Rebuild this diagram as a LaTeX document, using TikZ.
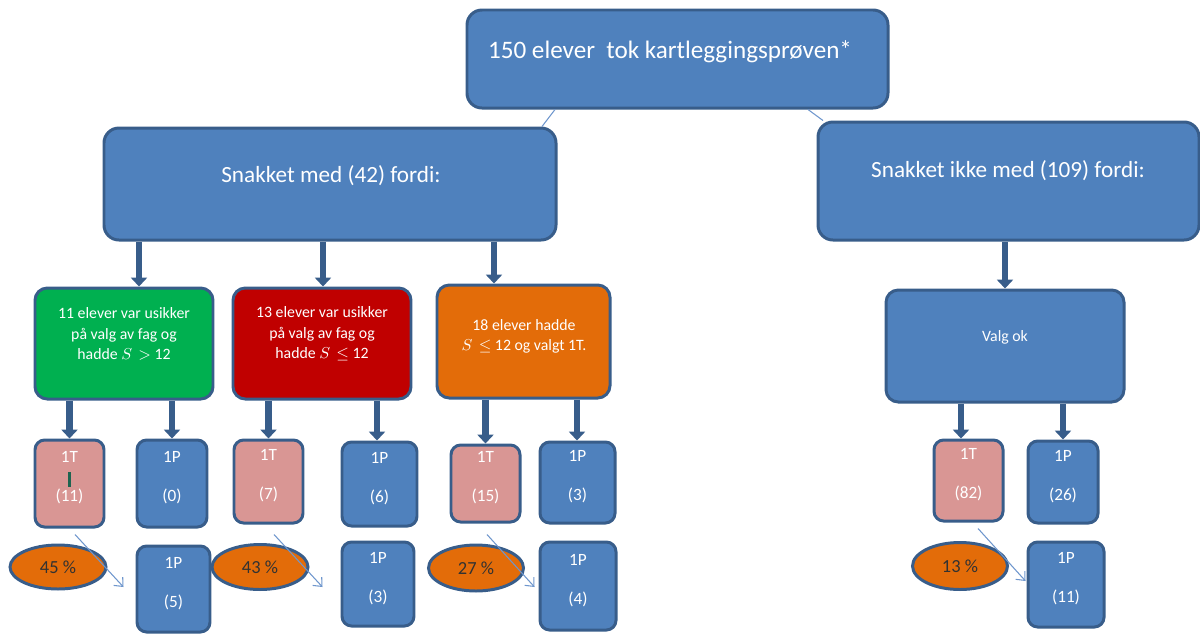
\documentclass[tikz,border=0pt]{standalone}
\usepackage{fontspec}
\setmainfont{Carlito}
\usetikzlibrary{fit,calc,arrows.meta,shapes.geometric}
\definecolor{bluef}{RGB}{79,129,189}
\definecolor{bord}{RGB}{56,93,138}
\definecolor{pinkf}{RGB}{217,150,148}
\definecolor{greenf}{RGB}{0,176,80}
\definecolor{redf}{RGB}{192,0,0}
\definecolor{orangef}{RGB}{227,108,9}
\definecolor{thinc}{RGB}{110,150,205}
\definecolor{darkt}{RGB}{50,50,50}
\definecolor{barc}{RGB}{30,100,80}
\tikzset{
  bigbox/.style={draw=bord, line width=1.7pt, rounded corners=8.5pt, inner sep=0pt, fill=bluef},
  smallbox/.style={draw=bord, line width=1.7pt, rounded corners=5.5pt, inner sep=0pt, text=white, align=center, font=\fontsize{9.8}{11}\selectfont},
  pinkbox/.style={smallbox, fill=pinkf},
  bluebox/.style={smallbox, fill=bluef},
  wtxt/.style={text=white, align=center, inner sep=0pt},
  oval/.style={ellipse, draw=bord, line width=1.7pt, fill=orangef, text=darkt, inner sep=0pt, font=\fontsize{10.5}{12}\selectfont},
  fatarrow/.style={draw=bord, line width=3.6pt, -{Triangle[width=9pt,length=5pt]}},
  thinarrow/.style={draw=thinc, line width=0.6pt, -{Straight Barb[length=4pt,width=7pt]}},
  thinline/.style={draw=thinc, line width=0.6pt}
}
\begin{document}
\begin{tikzpicture}[x=0.02cm,y=-0.02cm]
\useasboundingbox (0,0) rectangle (1200,633);
% level 1 and 2
\node[bigbox, fit={(467,10)(888,108)}] (top) {};
\node[bigbox, fit={(104,128)(556,240)}] (smed) {};
\node[bigbox, fit={(818,122)(1199,240)}] (sikke) {};
\node[wtxt, font=\fontsize{14.3}{17}\selectfont] (ttop) at (670,52) {150 elever\ \ tok kartleggingsprøven*};
\node[wtxt, font=\fontsize{13.2}{16}\selectfont] (tsmed) at (331,176) {Snakket med (42) fordi:};
\node[wtxt, font=\fontsize{13.2}{16}\selectfont] (tsikke) at (1008,171) {Snakket ikke med (109) fordi:};
% level 3
\node[bigbox, rounded corners=7pt, fill=greenf, fit={(35,288)(213,399)}] (green) {};
\node[bigbox, rounded corners=7pt, fill=redf, fit={(233,288)(411,399)}] (red) {};
\node[bigbox, rounded corners=7pt, fill=orangef, fit={(437,285)(610,398)}] (orange) {};
\node[bigbox, rounded corners=7pt, fit={(886,290)(1124,402)}] (valg) {};
\node[wtxt, font=\fontsize{9}{11.6}\selectfont] (tgreen) at (124,334) {11 elever var usikker\\på valg av fag og\\hadde $S$ \,$>$ 12};
\node[wtxt, font=\fontsize{9}{11.6}\selectfont] (tred) at (322,334) {13 elever var usikker\\på valg av fag og\\hadde $S$ \,$\leq$ 12};
\node[wtxt, font=\fontsize{9}{11.4}\selectfont] (torange) at (524,336) {18 elever hadde\\$S$ \,$\leq$ 12 og valgt 1T.};
\node[wtxt, font=\fontsize{9}{11}\selectfont] (tvalg) at (1005,337) {Valg ok};
% level 4
\node[pinkbox, fit={(35,440)(104,527)}] (a1) {1T\\[11pt](11)};
\node[bluebox, fit={(137,440)(207,527)}] (a2) {1P\\[11pt](0)};
\node[bluebox, fit={(137,546)(210,632)}] (a3) {1P\\[11pt](5)};
\node[pinkbox, fit={(234,440)(303,523)}] (b1) {1T\\[11pt](7)};
\node[bluebox, fit={(342,442)(417,526)}] (b2) {1P\\[11pt](6)};
\node[bluebox, fit={(342,542)(414,626)}] (b3) {1P\\[11pt](3)};
\node[pinkbox, fit={(451,445)(520,522)}] (c1) {1T\\[11pt](15)};
\node[bluebox, fit={(540,442)(615,523)}] (c2) {1P\\[11pt](3)};
\node[bluebox, fit={(540,542)(616,630)}] (c3) {1P\\[11pt](4)};
\node[pinkbox, fit={(934,440)(1003,521)}] (d1) {1T\\[11pt](82)};
\node[bluebox, fit={(1028,441)(1098,523)}] (d2) {1P\\[11pt](26)};
\node[bluebox, fit={(1028,542)(1104,627)}] (d3) {1P\\[11pt](11)};
\draw[barc, line width=1.2pt] (69.5,472) -- (69.5,487);
% ovals
\node[oval, minimum width=1.92cm, minimum height=0.88cm] (e1) at (58,567) {45 \%};
\node[oval, minimum width=1.92cm, minimum height=0.9cm] (e2) at (260,567) {43 \%};
\node[oval, minimum width=1.9cm, minimum height=0.92cm] (e3) at (476,568) {27 \%};
\node[oval, minimum width=1.9cm, minimum height=0.94cm] (e4) at (960,566) {13 \%};
% connectors
\draw[thinline] ($(top.south)+(-122.5,0)$) -- ($(smed.north)+(212,0)$);
\draw[thinline] ($(top.south)+(130.5,0)$) -- ($(sikke.north)+(-185.5,0)$);
\draw[fatarrow] (139,0 |- smed.south) -- (139,0 |- green.north);
\draw[fatarrow] (323,0 |- smed.south) -- (323,0 |- red.north);
\draw[fatarrow] (494,0 |- smed.south) -- (494,0 |- orange.north);
\draw[fatarrow] (1005,0 |- sikke.south) -- (1005,0 |- valg.north);
\draw[fatarrow] (69.5,0 |- green.south) -- (a1.north);
\draw[fatarrow] (172,0 |- green.south) -- (a2.north);
\draw[fatarrow] (268.5,0 |- red.south) -- (b1.north);
\draw[fatarrow] (377,0 |- red.south) -- (377,0 |- b2.north);
\draw[fatarrow] (485.5,0 |- orange.south) -- (c1.north);
\draw[fatarrow] (577,0 |- orange.south) -- (577,0 |- c2.north);
\draw[fatarrow] (961,0 |- valg.south) -- (961,0 |- d1.north);
\draw[fatarrow] (1063,0 |- valg.south) -- (1063,0 |- d2.north);
\draw[thinarrow] ($(a1.south)+(5.5,6)$) -- ($(a3.west)+(-12,-2)$);
\draw[thinarrow] ($(b1.south)+(5.5,10)$) -- ($(b3.west)+(-18,3)$);
\draw[thinarrow] ($(c1.south)+(1.5,11)$) -- ($(c3.west)+(-4,1)$);
\draw[thinarrow] ($(d1.south)+(9.5,6)$) -- ($(d3.west)+(-1,-3.5)$);
\end{tikzpicture}
\end{document}
